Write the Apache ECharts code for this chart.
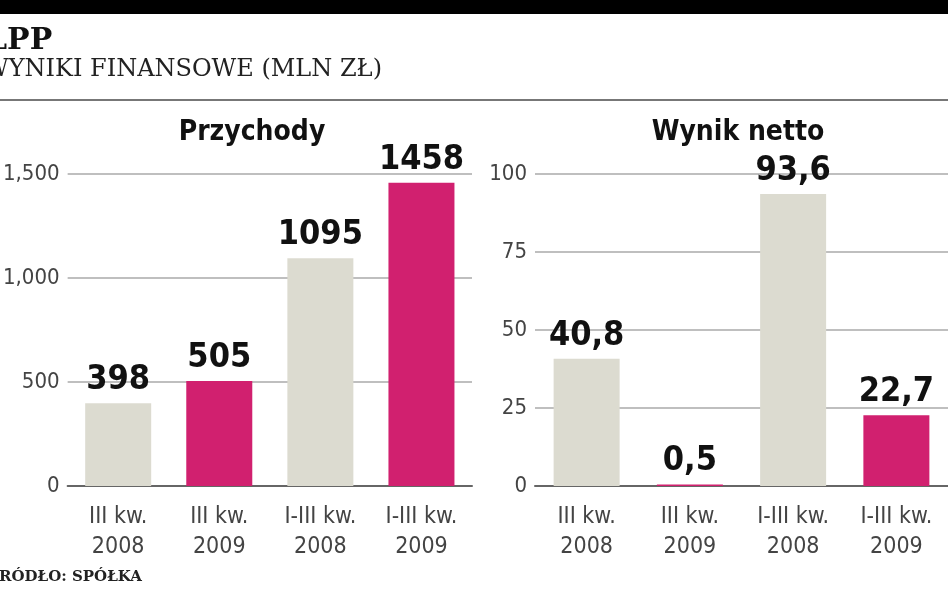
<!DOCTYPE html>
<html><head><meta charset="utf-8">
<script src="https://cdn.jsdelivr.net/npm/echarts@6/dist/echarts.min.js"></script>
<style>html,body{margin:0;padding:0;background:#fff}#c{width:948px;height:593px}</style>
</head><body><div id="c"></div>
<script>
const categories = ['III kw.\n2008','III kw.\n2009','I-III kw.\n2008','I-III kw.\n2009'];
const revenue = [398, 505, 1095, 1458];
const netIncome = [40.8, 0.5, 93.6, 22.7];
const revenueTicks = [0, 500, 1000, 1500];
const netTicks = [0, 25, 50, 75, 100];
const GRAY = '#dcdbd0', PINK = '#d1206f';
const colors = [GRAY, PINK, GRAY, PINK];
const cond = '"DejaVu Sans Condensed","Liberation Sans Narrow",sans-serif';
const fmtPL = v => String(v).replace('.', ',');

function axisY(gi, max, interval){
  return {gridIndex: gi, min: 0, max: max, interval: interval,
    axisLine:{show:false}, axisTick:{show:false},
    axisLabel:{color:'#444', fontFamily:cond, fontSize:22, margin:8},
    splitLine:{lineStyle:{color:'#aaa', width:1.5}}};
}
function axisX(gi){
  return {gridIndex: gi, type:'category', data: categories,
    axisLine:{lineStyle:{color:'#666', width:2}}, axisTick:{show:false},
    axisLabel:{color:'#444', fontFamily:cond, fontSize:23, lineHeight:30, margin:16, interval:0}};
}
function bars(gi, data){
  return {type:'bar', xAxisIndex:gi, yAxisIndex:gi, barWidth:66,
    data: data.map((v,i)=>({value:v, itemStyle:{color:colors[i]}})),
    label:{show:true, position:'top', distance:6, formatter:p=>fmtPL(p.value),
      fontFamily:cond, fontWeight:'bold', fontSize:34, color:'#111'}};
}
const chart = echarts.init(document.getElementById('c'));
chart.setOption({
  animation:false,
  grid:[{left:40, top:174, width:432, height:312},
        {left:535, top:174, width:440, height:312}],
  xAxis:[axisX(0), axisX(1)],
  yAxis:[axisY(0, 1500, 500), axisY(1, 100, 25)],
  series:[bars(0, revenue), bars(1, netIncome)],
  graphic:[
    {type:'rect', shape:{x:0,y:0,width:948,height:14}, style:{fill:'#000'}},
    {type:'text', left:-14, top:26, style:{text:'LPP', font:'bold 30px "DejaVu Serif",serif', fill:'#111'}},
    {type:'text', left:-16, top:58, style:{text:'WYNIKI FINANSOWE (MLN ZŁ)', font:'24px "DejaVu Serif",serif', fill:'#222'}},
    {type:'rect', shape:{x:0,y:99,width:948,height:2}, style:{fill:'#777'}},
    {type:'text', x:252, y:133, style:{text:'Przychody', align:'center', verticalAlign:'middle', font:'bold 28px '+cond, fill:'#111'}},
    {type:'text', x:738, y:133, style:{text:'Wynik netto', align:'center', verticalAlign:'middle', font:'bold 28px '+cond, fill:'#111'}},
    {type:'text', left:-12, top:570, style:{text:'ŹRÓDŁO: SPÓŁKA', font:'bold 15px "DejaVu Serif",serif', fill:'#222'}}
  ]
});
</script></body></html>
